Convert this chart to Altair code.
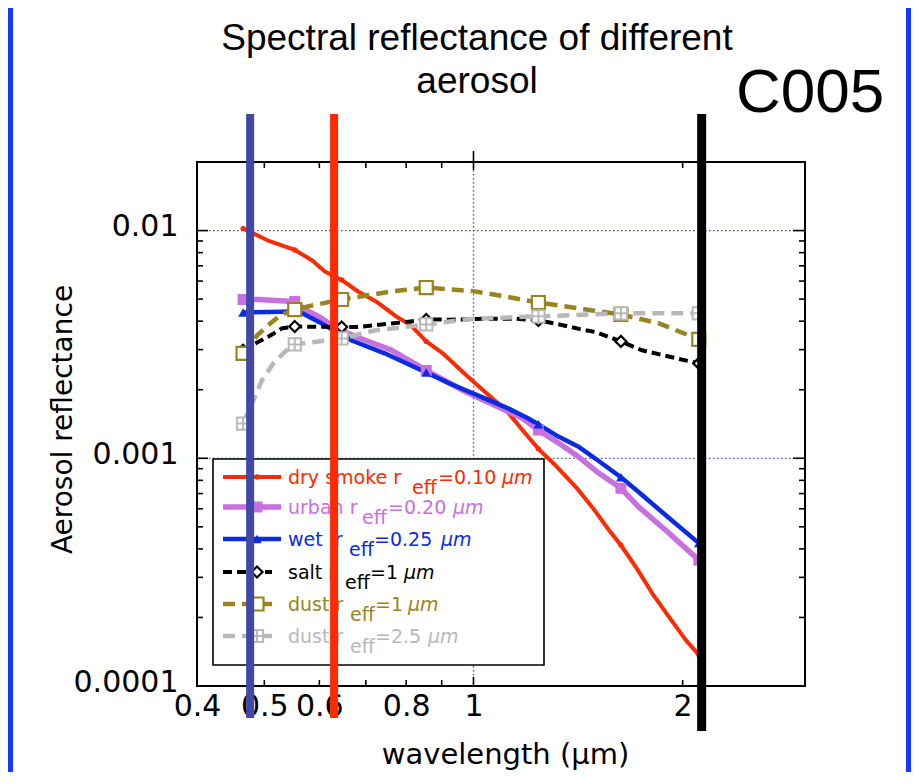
import altair as alt
import numpy as np
import pandas as pd

# ---------------- data ----------------
BANDS = [0.466, 0.553, 0.646, 0.855, 1.24, 1.63, 2.11]

SMOKE_WL = [0.466, 0.506, 0.553, 0.586, 0.611, 0.646, 0.682, 0.728, 0.778, 0.810, 0.855, 0.903, 0.977,
            1.044, 1.115, 1.176, 1.24, 1.316, 1.405, 1.482, 1.567, 1.63, 1.714, 1.807, 1.911, 2.021, 2.11]
SMOKE_R = [0.0102, 0.00904, 0.00822, 0.00739, 0.00661, 0.00607, 0.00540, 0.00483, 0.00415, 0.00387, 0.00326,
           0.00289, 0.00231, 0.00193, 0.00162, 0.00133, 0.00110, 0.000922, 0.000746, 0.000610, 0.000483,
           0.000415, 0.000332, 0.000256, 0.000201, 0.000159, 0.000137]

URBAN_WL = [0.466, 0.490, 0.518, 0.553, 0.572, 0.605, 0.632, 0.646, 0.682, 0.763, 0.855, 0.977, 1.090,
            1.176, 1.24, 1.329, 1.419, 1.516, 1.63, 1.730, 1.891, 2.11]
URBAN_R = [0.00498, 0.00498, 0.00493, 0.00488, 0.00450, 0.00411, 0.00375, 0.00364, 0.00339, 0.00298, 0.00243,
           0.00195, 0.00167, 0.00150, 0.00133, 0.00116, 0.00101, 0.000859, 0.000738, 0.000610, 0.000483,
           0.000357]

WET_WL = [0.466, 0.553, 0.567, 0.601, 0.632, 0.646, 0.668, 0.745, 0.855, 0.924, 1.030, 1.115, 1.192, 1.24,
          1.316, 1.419, 1.516, 1.63, 1.730, 1.891, 2.11]
WET_R = [0.00437, 0.00441, 0.00433, 0.00395, 0.00361, 0.00350, 0.00329, 0.00289, 0.00238, 0.00213, 0.00185,
         0.00167, 0.00151, 0.00141, 0.00126, 0.00112, 0.00097, 0.000825, 0.000709, 0.000562, 0.000424]

SALT_WL = [0.466, 0.485, 0.510, 0.530, 0.553, 0.600, 0.646, 0.682, 0.737, 0.796, 0.855, 0.924, 1.043, 1.151,
           1.24, 1.314, 1.419, 1.50, 1.63, 1.748, 1.956, 2.11]
SALT_R = [0.00298, 0.00319, 0.00346, 0.00372, 0.00379, 0.00378, 0.00377, 0.00377, 0.00387, 0.00396, 0.00407,
          0.00406, 0.00410, 0.00410, 0.00403, 0.00390, 0.00370, 0.00358, 0.00326, 0.00298, 0.00275, 0.00261]

DUST1_WL = [0.466, 0.488, 0.506, 0.527, 0.553, 0.586, 0.646, 0.762, 0.855, 0.998, 1.090, 1.24, 1.482, 1.63,
            1.849, 2.11]
DUST1_R = [0.00289, 0.00346, 0.00383, 0.00424, 0.00450, 0.00469, 0.00498, 0.00540, 0.00562, 0.00542, 0.00519,
           0.00483, 0.00446, 0.00428, 0.00391, 0.00333]

DUST25_WL = [0.466, 0.480, 0.496, 0.515, 0.538, 0.553, 0.646, 0.721, 0.855, 0.998, 1.24, 1.63, 2.11]
DUST25_R = [0.00142, 0.00174, 0.00220, 0.00261, 0.00298, 0.00316, 0.00336, 0.00364, 0.00387, 0.00410,
            0.00420, 0.00433, 0.00433]

SENSOR_WL = [0.477, 0.63, 2.13]

X_LABELS = [0.4, 0.5, 0.6, 0.8, 1, 2]
Y_LABELS = [0.0001, 0.001, 0.01]
X_MINOR = [0.5, 0.6, 0.7, 0.8, 0.9, 2]
X_MAJOR = [1]
Y_MINOR = [0.0002, 0.0003, 0.0004, 0.0005, 0.0006, 0.0007, 0.0008, 0.0009,
           0.002, 0.003, 0.004, 0.005, 0.006, 0.007, 0.008, 0.009]
Y_MAJOR = [0.001, 0.01]
GRID_X = [1]
GRID_Y = [0.001, 0.01]

TITLE_1 = "Spectral reflectance of different"
TITLE_2 = "aerosol"
TAG = "C005"

# ---------------- styles ----------------
W, H = 608, 524
FONT = "DejaVu Sans"
TFONT = "Liberation Sans"
GRID_COLOR = "#2c4cf0"
BORDER_BLUE = "#1438ff"

xs = alt.Scale(type="log", domain=[0.4, 3.0], nice=False)
ys = alt.Scale(type="log", domain=[0.0001, 0.02], nice=False)

x_axis = alt.Axis(values=X_LABELS, labelExpr="format(datum.value, '~g')", ticks=False, domain=False,
                  grid=False, labelFont=FONT, labelFontSize=30, labelColor="black", labelPadding=5,
                  labelOverlap=False, labelFlush=False, labelBound=False,
                  title="wavelength (µm)", titleFont=FONT, titleFontSize=29, titleFontWeight="normal",
                  titleColor="black", titleX=308, titleY=77, titleAlign="center",
                  titleBaseline="alphabetic")
y_axis = alt.Axis(values=Y_LABELS, labelExpr="format(datum.value, '~g')", ticks=False, domain=False,
                  grid=False, labelFont=FONT, labelFontSize=30, labelColor="black", labelPadding=19,
                  labelOffset=-4, labelBaseline="middle", labelOverlap=False, labelFlush=False,
                  title="Aerosol reflectance", titleFont=FONT, titleFontSize=28, titleFontWeight="normal",
                  titleColor="black", titleX=-134, titleY=257, titleAngle=270, titleAlign="center",
                  titleBaseline="middle")


def X():
    return alt.X("wl:Q", scale=xs, axis=x_axis)


def Y():
    return alt.Y("refl:Q", scale=ys, axis=y_axis)


def one():
    return alt.Chart(pd.DataFrame({"k": [0]}))


layers = []

# blue frame of the slide
layers.append(one().mark_rect(color=BORDER_BLUE).encode(
    x=alt.value(709), x2=alt.value(716), y=alt.value(-154), y2=alt.value(620)))
layers.append(one().mark_rect(color=BORDER_BLUE).encode(
    x=alt.value(-189), x2=alt.value(-184), y=alt.value(-154), y2=alt.value(620)))

# dotted grid at decades
layers.append(alt.Chart(pd.DataFrame({"refl": GRID_Y})).mark_rule(
    color=GRID_COLOR, strokeWidth=1.3, strokeDash=[1.5, 2.5]).encode(
    y=Y(), x=alt.value(0), x2=alt.value(W)))
layers.append(alt.Chart(pd.DataFrame({"wl": GRID_X})).mark_rule(
    color=GRID_COLOR, strokeWidth=1.3, strokeDash=[1.5, 2.5]).encode(
    x=X(), y=alt.value(0), y2=alt.value(H)))


# inward ticks on all four sides
def yticks(vals, x0, x1):
    return alt.Chart(pd.DataFrame({"refl": vals})).mark_rule(color="black", strokeWidth=1.6).encode(
        y=Y(), x=alt.value(x0), x2=alt.value(x1))


def xticks(vals, y0, y1):
    return alt.Chart(pd.DataFrame({"wl": vals})).mark_rule(color="black", strokeWidth=1.6).encode(
        x=X(), y=alt.value(y0), y2=alt.value(y1))


layers += [
    yticks(Y_MINOR, 0, 6), yticks(Y_MAJOR, 0, 11),
    yticks(Y_MINOR, W, W - 6), yticks(Y_MAJOR, W, W - 12),
    xticks(X_MINOR, H, H - 6), xticks(X_MAJOR, H, H - 9),
    xticks(X_MINOR, 0, 6), xticks(X_MAJOR, -11, 8),
]

GRAY_SHAPE = "M-1,-1L1,-1L1,1L-1,1Z M0,-1L0,1 M-1,0L1,0"

SERIES = [
    # wl, r, color, width, dash, shape, size, fill, stroke width of marker
    (SMOKE_WL, SMOKE_R, "#ff2a00", 4.0, None, "circle", 28, "#ff2a00", 0),
    (URBAN_WL, URBAN_R, "#c870e0", 5.5, None, "square", 120, "#c870e0", 0),
    (WET_WL, WET_R, "#0a2be0", 4.5, None, "triangle-up", 95, "#0a2be0", 0),
    (SALT_WL, SALT_R, "#000000", 4.0, [9, 5], "diamond", 120, "white", 2.2),
    (DUST1_WL, DUST1_R, "#9a8420", 4.5, [12, 7], "square", 170, "white", 2.2),
    (DUST25_WL, DUST25_R, "#b8b8b8", 4.5, [12, 7], GRAY_SHAPE, 150, "white", 2.0),
]

for wl, r, color, width, dash, shape, size, fill, msw in SERIES:
    df = pd.DataFrame({"wl": wl, "refl": r})
    kw = dict(color=color, strokeWidth=width, strokeJoin="round")
    if dash:
        kw["strokeDash"] = dash
    layers.append(alt.Chart(df).mark_line(**kw).encode(x=X(), y=Y()))

for wl, r, color, width, dash, shape, size, fill, msw in SERIES:
    df = pd.DataFrame({"wl": wl, "refl": r})
    df = df[[any(np.isclose(w, b) for b in BANDS) for w in wl]]
    mk = dict(shape=shape, size=size, filled=True, fill=fill, opacity=1)
    if msw:
        mk.update(stroke=color, strokeWidth=msw)
    else:
        mk.update(strokeWidth=0)
    layers.append(alt.Chart(df).mark_point(**mk).encode(x=X(), y=Y()))

# ---------------- legend ----------------
LEG_TEXT = [
    ("dry smoke r", "=0.10", "µm"),
    ("urban r", "=0.20", "µm"),
    ("wet\u00a0\u00a0r", "=0.25", "µm"),
    ("salt r", "=1", "µm"),
    ("dust r", "=1", "µm"),
    ("dust r", "=2.5", "µm"),
]
LEG_ROW_Y = [315, 345, 377, 410, 442, 474]
LEG_SUB_X = [215, 165, 152, 148, 153, 153]
LEG_REST_X = [241, 191, 177, 173, 178, 178]
LEG_MU_X = [305, 256, 244, 207, 211, 231]

layers.append(one().mark_rect(fill="white", stroke="black", strokeWidth=1.6).encode(
    x=alt.value(16), x2=alt.value(347), y=alt.value(297), y2=alt.value(503)))

for i, (wl, r, color, width, dash, shape, size, fill, msw) in enumerate(SERIES):
    yy = LEG_ROW_Y[i]
    kw = dict(color=color, strokeWidth=width)
    x_end = 84
    if dash:
        kw["strokeDash"] = dash
        x_end = 75
    layers.append(one().mark_rule(**kw).encode(
        x=alt.value(26), x2=alt.value(x_end), y=alt.value(yy)))
    mk = dict(shape=shape, size=size, filled=True, fill=fill, opacity=1)
    if msw:
        mk.update(stroke=color, strokeWidth=msw)
    else:
        mk.update(strokeWidth=0)
    layers.append(one().mark_point(**mk).encode(x=alt.value(60), y=alt.value(yy)))
    main, rest, mu = LEG_TEXT[i]
    tk = dict(font=FONT, fontSize=19, color=color, align="left", baseline="middle")
    layers.append(one().mark_text(**tk).encode(
        x=alt.value(91), y=alt.value(yy + 1), text=alt.value(main)))
    layers.append(one().mark_text(**tk).encode(
        x=alt.value(LEG_SUB_X[i]), y=alt.value(yy + 11), text=alt.value("eff")))
    layers.append(one().mark_text(**tk).encode(
        x=alt.value(LEG_REST_X[i]), y=alt.value(yy + 1), text=alt.value(rest)))
    layers.append(one().mark_text(fontStyle="italic", **tk).encode(
        x=alt.value(LEG_MU_X[i]), y=alt.value(yy + 1), text=alt.value(mu)))

# ---------------- sensor band lines (on top) ----------------
SENSOR_STYLE = [("#4248a8", 8, 556), ("#ff2a00", 8, 556), ("#000000", 9, 569)]
for w, (c, sw, y2) in zip(SENSOR_WL, SENSOR_STYLE):
    layers.append(alt.Chart(pd.DataFrame({"wl": [w]})).mark_rule(color=c, strokeWidth=sw).encode(
        x=X(), y=alt.value(-48), y2=alt.value(y2)))

# ---------------- titles ----------------
layers.append(one().mark_text(font=TFONT, fontSize=37, color="black", align="center",
                              baseline="alphabetic").encode(
    x=alt.value(280), y=alt.value(-112), text=alt.value(TITLE_1)))
layers.append(one().mark_text(font=TFONT, fontSize=37, color="black", align="center",
                              baseline="alphabetic").encode(
    x=alt.value(280), y=alt.value(-69), text=alt.value(TITLE_2)))
layers.append(one().mark_text(font=TFONT, fontSize=62, color="black", align="center",
                              baseline="alphabetic").encode(
    x=alt.value(613), y=alt.value(-50), text=alt.value(TAG)))

chart = alt.layer(*layers).properties(
    width=W, height=H,
    autosize=alt.AutoSizeParams(type="none"),
    padding={"left": 189, "top": 154, "right": 106, "bottom": 86},
    background="white",
).configure_view(stroke="black", strokeWidth=2)

chart.save("out.html", embed_options={"renderer": "svg", "actions": False})
